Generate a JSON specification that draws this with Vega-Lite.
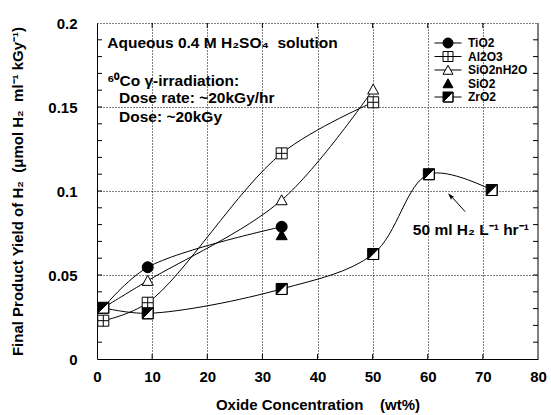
{
  "$schema": "https://vega.github.io/schema/vega-lite/v6.json",
  "width": 441,
  "height": 336,
  "autosize": {"type": "none"},
  "padding": {"left": 97, "top": 23, "right": 13, "bottom": 56},
  "background": "white",
  "config": {"view": {"stroke": null}, "font": "Liberation Sans"},
  "datasets": {
    "ytick": [{"v": 0.01}, {"v": 0.02}, {"v": 0.03}, {"v": 0.04}, {"v": 0.05}, {"v": 0.06}, {"v": 0.07}, {"v": 0.08}, {"v": 0.09}, {"v": 0.1},
              {"v": 0.11}, {"v": 0.12}, {"v": 0.13}, {"v": 0.14}, {"v": 0.15}, {"v": 0.16}, {"v": 0.17}, {"v": 0.18}, {"v": 0.19}],
    "xtick": [{"v": 10}, {"v": 20}, {"v": 30}, {"v": 40}, {"v": 50}, {"v": 60}, {"v": 70}]
  },
  "data": {"values": [
    {"series": "TiO2", "conc": 1.14, "yield": 0.0305},
    {"series": "TiO2", "conc": 9.2, "yield": 0.0546},
    {"series": "TiO2", "conc": 33.5, "yield": 0.0787},
    {"series": "Al2O3", "conc": 1.14, "yield": 0.0228},
    {"series": "Al2O3", "conc": 9.2, "yield": 0.0335},
    {"series": "Al2O3", "conc": 33.5, "yield": 0.1224},
    {"series": "Al2O3", "conc": 50.1, "yield": 0.1528},
    {"series": "SiO2nH2O", "conc": 1.14, "yield": 0.0305},
    {"series": "SiO2nH2O", "conc": 9.2, "yield": 0.0466},
    {"series": "SiO2nH2O", "conc": 33.5, "yield": 0.0946},
    {"series": "SiO2nH2O", "conc": 50.1, "yield": 0.1605},
    {"series": "SiO2", "conc": 33.5, "yield": 0.0738},
    {"series": "ZrO2", "conc": 1.14, "yield": 0.0305},
    {"series": "ZrO2", "conc": 9.2, "yield": 0.0272},
    {"series": "ZrO2", "conc": 33.5, "yield": 0.0417},
    {"series": "ZrO2", "conc": 50.1, "yield": 0.0625},
    {"series": "ZrO2", "conc": 60.2, "yield": 0.110},
    {"series": "ZrO2", "conc": 71.6, "yield": 0.1006}
  ]},
  "resolve": {
    "scale": {"shape": "independent", "fill": "independent"}
  },
  "layer": [
    {
      "mark": {"type": "line", "interpolate": "catmull-rom", "color": "black", "strokeWidth": 1},
      "encoding": {
        "x": {"field": "conc", "type": "quantitative",
          "scale": {"domain": [0, 80], "nice": false, "zero": false},
          "axis": {"orient": "bottom", "values": [0, 10, 20, 30, 40, 50, 60, 70, 80], "format": "d",
            "title": "Oxide Concentration\u00a0\u00a0\u00a0\u00a0(wt%)",
            "titleFont": "Liberation Sans", "titleFontSize": 15, "titleFontWeight": "bold", "titleColor": "black",
            "titleY": 45, "titleBaseline": "middle",
            "labelFont": "Liberation Sans", "labelFontSize": 15, "labelFontWeight": "bold", "labelColor": "black",
            "labelPadding": 10, "labelFlush": false, "labelOverlap": false,
            "ticks": false, "tickSize": 0,
            "domainColor": "black", "domainWidth": 1,
            "grid": true, "gridColor": "black", "gridDash": [1, 2], "gridWidth": 1,
            "gridOpacity": {"condition": {"test": "datum.value > 0 && datum.value < 80", "value": 1}, "value": 0}}},
        "y": {"field": "yield", "type": "quantitative",
          "scale": {"domain": [0, 0.2], "nice": false},
          "axis": {"orient": "left",
            "values": [0, 0.05, 0.1, 0.15, 0.2],
            "labelExpr": "format(datum.value, '~g')",
            "title": "Final Product Yield of H₂\u00a0\u00a0(μmol H₂\u00a0\u00a0ml⁻¹ kGy⁻¹)",
            "titleFont": "Liberation Sans", "titleFontSize": 15, "titleFontWeight": "bold", "titleColor": "black",
            "titleX": -80, "titleY": 168, "titleBaseline": "middle", "titleAlign": "center", "titleAngle": -90,
            "labelFont": "Liberation Sans", "labelFontSize": 15, "labelFontWeight": "bold", "labelColor": "black",
            "labelPadding": 20, "labelFlush": false, "labelOverlap": false,
            "ticks": false, "tickSize": 0,
            "domainColor": "black", "domainWidth": 1,
            "grid": true, "gridColor": "black", "gridDash": [1, 2], "gridWidth": 1,
            "gridOpacity": {"condition": {"test": "datum.value > 0", "value": 1}, "value": 0}}},
        "detail": {"field": "series"}
      }
    },
    {
      "data": {"values": [{}]},
      "mark": {"type": "rule", "color": "black", "strokeWidth": 1},
      "encoding": {
        "x": {"datum": 80, "type": "quantitative"},
        "y": {"datum": 0, "type": "quantitative"},
        "y2": {"datum": 0.2}
      }
    },
    {
      "data": {"name": "ytick"},
      "mark": {"type": "rule", "color": "black", "strokeWidth": 1},
      "encoding": {
        "x": {"datum": 0, "type": "quantitative"},
        "x2": {"datum": 0.907},
        "y": {"field": "v", "type": "quantitative"}
      }
    },
    {
      "data": {"name": "ytick"},
      "mark": {"type": "rule", "color": "black", "strokeWidth": 1},
      "encoding": {
        "x": {"datum": 79.093, "type": "quantitative"},
        "x2": {"datum": 80},
        "y": {"field": "v", "type": "quantitative"}
      }
    },
    {
      "data": {"name": "xtick"},
      "mark": {"type": "rule", "color": "black", "strokeWidth": 1},
      "encoding": {
        "x": {"field": "v", "type": "quantitative"},
        "y": {"datum": 0, "type": "quantitative"},
        "y2": {"datum": 0.002976}
      }
    },
    {
      "data": {"name": "xtick"},
      "mark": {"type": "rule", "color": "black", "strokeWidth": 1},
      "encoding": {
        "x": {"field": "v", "type": "quantitative"},
        "y": {"datum": 0.197024, "type": "quantitative"},
        "y2": {"datum": 0.2}
      }
    },
    {
      "transform": [{"filter": "datum.series == 'ZrO2'"}],
      "mark": {"type": "point", "shape": "square", "filled": true, "color": "white", "size": 121, "opacity": 1},
      "encoding": {
        "x": {"field": "conc", "type": "quantitative"},
        "y": {"field": "yield", "type": "quantitative"}
      }
    },
    {
      "transform": [{"filter": "!(datum.conc < 2 && (datum.series == 'TiO2' || datum.series == 'SiO2nH2O'))"}],
      "mark": {"type": "point", "filled": true, "size": 121, "stroke": "black", "strokeWidth": 1, "opacity": 1},
      "encoding": {
        "x": {"field": "conc", "type": "quantitative"},
        "y": {"field": "yield", "type": "quantitative"},
        "shape": {"field": "series", "type": "nominal",
          "scale": {"domain": ["TiO2", "Al2O3", "SiO2nH2O", "SiO2", "ZrO2"],
            "range": [
              "M1,0A1,1,0,1,1,-1,0A1,1,0,1,1,1,0Z",
              "M-1,-1H1V1H-1Z M0,-1V1 M-1,0H1",
              "M0,-0.95L1,0.85L-1,0.85Z",
              "M0,-0.95L1,0.85L-1,0.85Z",
              "M-1,-1H1V1H-1Z M1,-1L-1,1H1Z"
            ]},
          "legend": null},
        "fill": {"field": "series", "type": "nominal",
          "scale": {"domain": ["TiO2", "Al2O3", "SiO2nH2O", "SiO2", "ZrO2"],
            "range": ["black", "white", "white", "black", "black"]},
          "legend": null}
      }
    },
    {
      "transform": [{"filter": "!(datum.conc < 2 && (datum.series == 'TiO2' || datum.series == 'SiO2nH2O'))"}],
      "mark": {"type": "point", "filled": true, "size": 121, "stroke": "black", "strokeWidth": 1, "opacity": 0},
      "encoding": {
        "x": {"field": "conc", "type": "quantitative"},
        "y": {"field": "yield", "type": "quantitative"},
        "shape": {"field": "series", "type": "nominal",
          "scale": {"domain": ["TiO2", "Al2O3", "SiO2nH2O", "SiO2", "ZrO2"],
            "range": [
              "M1,0A1,1,0,1,1,-1,0A1,1,0,1,1,1,0Z M-2.7,0H-1 M1,0H2.7",
              "M-1,-1H1V1H-1Z M0,-1V1 M-1,0H1 M-2.7,0H-1 M1,0H2.7",
              "M0,-0.95L1,0.85L-1,0.85Z M-2.7,0H-0.53 M0.53,0H2.7",
              "M0,-0.95L1,0.85L-1,0.85Z",
              "M-1,-1H1V1H-1Z M1,-1L-1,1H1Z M-2.7,0H-1 M1,0H2.7"
            ]},
          "legend": {"orient": "none", "legendX": 345, "legendY": 14, "title": null, "padding": 0,
            "labelFont": "Liberation Sans", "labelFontSize": 12, "labelFontWeight": "bold", "labelColor": "black",
            "labelOffset": 14, "rowPadding": -0.5, "symbolOpacity": 1, "symbolStrokeColor": "black", "symbolStrokeWidth": 1,
            "encode": {"symbols": {"update": {"stroke": {"value": "black"}, "strokeWidth": {"value": 1}, "opacity": {"value": 1}, "strokeOpacity": {"value": 1}}}}}},
        "fill": {"field": "series", "type": "nominal",
          "scale": {"domain": ["TiO2", "Al2O3", "SiO2nH2O", "SiO2", "ZrO2"],
            "range": ["black", "white", "white", "black", "black"]},
          "legend": {"orient": "none", "legendX": 345, "legendY": 14, "title": null, "padding": 0,
            "labelFont": "Liberation Sans", "labelFontSize": 12, "labelFontWeight": "bold", "labelColor": "black",
            "labelOffset": 14, "rowPadding": -0.5, "symbolOpacity": 1, "symbolStrokeColor": "black", "symbolStrokeWidth": 1,
            "encode": {"symbols": {"update": {"stroke": {"value": "black"}, "strokeWidth": {"value": 1}, "opacity": {"value": 1}, "strokeOpacity": {"value": 1}}}}}}
      }
    },
    {
      "data": {"values": [{}]},
      "mark": {"type": "text", "align": "left", "baseline": "middle", "font": "Liberation Sans", "fontWeight": "bold", "fontSize": 15.5, "color": "black",
        "text": "Aqueous 0.4 M H₂SO₄\u00a0\u00a0solution"},
      "encoding": {"x": {"datum": 1.87, "type": "quantitative"}, "y": {"datum": 0.1883, "type": "quantitative"}}
    },
    {
      "data": {"values": [{}]},
      "mark": {"type": "text", "align": "left", "baseline": "middle", "font": "Liberation Sans", "fontWeight": "bold", "fontSize": 15.5, "color": "black",
        "text": "⁶⁰Co γ-irradiation:"},
      "encoding": {"x": {"datum": 1.87, "type": "quantitative"}, "y": {"datum": 0.1655, "type": "quantitative"}}
    },
    {
      "data": {"values": [{}]},
      "mark": {"type": "text", "align": "left", "baseline": "middle", "font": "Liberation Sans", "fontWeight": "bold", "fontSize": 15.5, "color": "black",
        "text": "Dose rate: ~20kGy/hr"},
      "encoding": {"x": {"datum": 4.0, "type": "quantitative"}, "y": {"datum": 0.1552, "type": "quantitative"}}
    },
    {
      "data": {"values": [{}]},
      "mark": {"type": "text", "align": "left", "baseline": "middle", "font": "Liberation Sans", "fontWeight": "bold", "fontSize": 15.5, "color": "black",
        "text": "Dose: ~20kGy"},
      "encoding": {"x": {"datum": 4.0, "type": "quantitative"}, "y": {"datum": 0.1439, "type": "quantitative"}}
    },
    {
      "data": {"values": [{}]},
      "mark": {"type": "text", "align": "left", "baseline": "middle", "font": "Liberation Sans", "fontWeight": "bold", "fontSize": 15.5, "color": "black",
        "text": "50 ml H₂ L⁻¹ hr⁻¹"},
      "encoding": {"x": {"datum": 57.3, "type": "quantitative"}, "y": {"datum": 0.0768, "type": "quantitative"}}
    },
    {
      "data": {"values": [{}]},
      "mark": {"type": "rule", "color": "black", "strokeWidth": 1},
      "encoding": {
        "x": {"datum": 66.79, "type": "quantitative"}, "y": {"datum": 0.0877, "type": "quantitative"},
        "x2": {"datum": 64.19}, "y2": {"datum": 0.0971}
      }
    },
    {
      "data": {"values": [{}]},
      "mark": {"type": "point", "shape": "M0,-1L0.6,1L0,0.6L-0.6,1Z", "filled": true, "color": "black", "size": 50, "angle": 317.8, "opacity": 1},
      "encoding": {"x": {"datum": 64.1, "type": "quantitative"}, "y": {"datum": 0.0971, "type": "quantitative"}}
    }
  ]
}
